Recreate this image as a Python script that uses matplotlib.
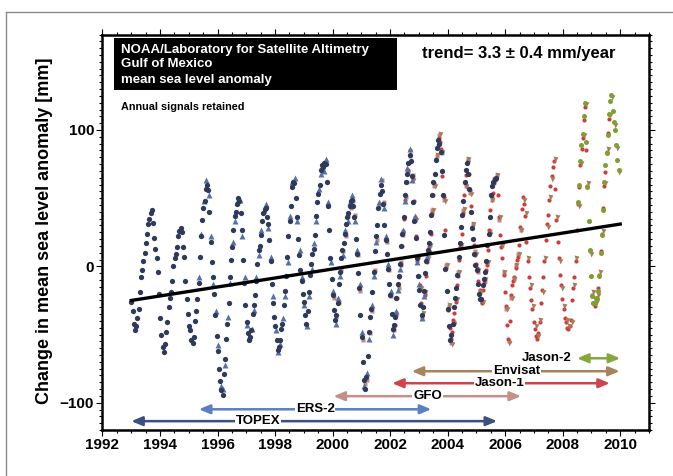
import numpy as np
import matplotlib
matplotlib.use("Agg")
import matplotlib.pyplot as plt
from matplotlib.ticker import MultipleLocator

plt.rcParams['font.family'] = ['Liberation Sans', 'DejaVu Sans']

# sea level anomaly [mm] per mission
# (one value per month, plus a second table for the mid-month passes)
topex_start = 1993.0
topex_mm = [
    -26, -42, -44, -31, -8, 4, 17, 31, 39, 32, 13, -4,
    -38, -59, -57, -41, -23, -11, 6, 14, 26, 25, 7, -24,
    -44, -54, -52, -33, -12, 22, 43, 57, 56, 18, -8, -36,
    -62, -84, -94, -68, -42, -8, 14, 37, 46, 48, 27, -12,
    -41, -54, -47, -28, -11, 12, 23, 39, 43, 31, 4, -27,
    -44, -61, -54, -42, -18, 7, 33, 58, 61, 36, 8, -11,
    -26, -42, -19, 2, 13, 37, 53, 71, 73, 75, 44, 6,
    -21, -39, -27, -4, 12, 24, 36, 44, 49, 36, 9, -16,
    -52, -83, -81, -48, -31, -4, 22, 43, 60, 46, 19, -2,
    -21, -46, -37, -13, 2, 24, 52, 68, 82, 66, 33, 6,
    -17, -36, -18, 4, 17, 38, 62, 78, 93, 84, 52, -2,
    -31, -54, -42, -23, -6, 17, 38, 62, 76, 57, 28, 9,
    -3, -20, -24, -9, 4, 24, 52, 62, 65,
]
topex_mid_mm = [
    -33, -47, -38, -19, -3, 10, 24, 35, 41, 21, 6, -20,
    -50, -63, -48, -30, -19, 0, 9, 22, 28, 14, -11, -35,
    -47, -56, -40, -24, 7, 34, 48, 60, 40, 3, -20, -51,
    -75, -91, -79, -53, -27, 5, 27, 40, 50, 39, 5, -28,
    -49, -52, -35, -21, 2, 15, 33, 42, 36, 19, -13, -37,
    -54, -59, -46, -28, -7, 22, 44, 62, 50, 20, -3, -20,
    -36, -33, -6, 9, 23, 47, 60, 74, 76, 62, 27, -9,
    -32, -36, -13, 6, 17, 31, 39, 48, 44, 20, -5, -36,
    -70, -90, -66, -37, -19, 11, 30, 53, 55, 30, 9, -13,
    -35, -43, -23, -7, 15, 36, 62, 76, 77, 47, 21, -7,
    -28, -30, -5, 12, 25, 52, 68, 87, 90, 70, 23, -18,
    -44, -50, -30, -16, 7, 29, 48, 71, 68, 40, 20, 1,
    -13, -24, -14, -4, 16, 36, 59, 64,
]

ers2_start = 1995 + 4 / 12
ers2_mm = [
    -8, 24, 48, 63, 52, 22, -13, -33,
    -58, -88, -90, -72, -37, -12, 18, 33, 47, 49, 22, -8,
    -43, -52, -46, -32, -8, 8, 27, 41, 46, 28, 7, -22,
    -47, -63, -57, -38, -22, 3, 37, 62, 65, 33, 12, -8,
    -28, -44, -22, -2, 17, 33, 57, 68, 70, 79, 47, 3,
    -18, -42, -23, -7, 8, 27, 33, 47, 52, 33, 12, -13,
    -48, -88, -78, -53, -28, -7, 18, 47, 64, 43, 22, 2,
    -18, -50, -33, -17, -2, 27, 48, 72, 86, 63, 37, 3,
    -13, -38, -22, 7, 13,
]

gfo_start = 2000.0
gfo_mm = [
    -23, -37, -26, -3, 11, 22, 37, 43, 48, 38, 8, -18,
    -54, -86, -83, -49, -33, -3, 19, 44, 63, 47, 18, -3,
    -22, -47, -34, -16, 3, 23, 51, 69, 81, 67, 34, 7,
    -16, -37, -19, 6, 16, 41, 59, 81, 96, 83, 49, 1,
    -29, -56, -41, -24, -4, 16, 41, 59, 79, 54, 31, 11,
    -4, -19, -26, -11, 3, 26, 49, 64, 67, 34, 16, -4,
    -31, -55, -23, -9, 1, 9, 27,
]

jason1_start = 2002 + 1 / 12
jason1_mm = [
    -47, -36, -14, 1, 26, 49, 71, 85, 64, 36, 4,
    -14, -36, -21, 3, 14, 39, 61, 79, 94, 86, 51, -1,
    -32, -53, -39, -26, -7, 14, 39, 61, 77, 56, 29, 8,
    -1, -17, -27, -12, 1, 27, 51, 61, 64, 36, 14, -6,
    -29, -53, -21, -11, -1, 7, 29, 51, 37, 4, -16, -31,
    -46, -53, -41, -17, 4, 31, 49, 66, 77, 34, 6, -14,
    -31, -41, -46, -39, -16, 4, 46, 74, 94, 117, 59, 11,
    -21, -29, -23, -6, 24, 59, 84, 108,
]
jason1_mid_mm = [
    -43, -23, -8, 15, 35, 62, 76, 77, 48, 22, -7,
    -27, -30, -7, 10, 24, 52, 68, 88, 91, 66, 27, -18,
    -45, -48, -34, -14, 5, 24, 52, 67, 68, 44, 16, 2,
    -11, -25, -17, -3, 12, 41, 54, 63, 52, 23, 6, -19,
    -43, -40, -14, -8, 5, 16, 42, 46, 18, -8, -25, -41,
    -51, -49, -27, -8, 19, 38, 59, 73, 57, 18, -6, -24,
    -38, -45, -44, -25, -8, 27, 58, 86, 107, 85, 33, -7,
    -27, -24, -16, 11, 43, 69, 98,
]

envisat_start = 2002 + 9 / 12
envisat_mm = [
    63, 34, 6,
    -16, -34, -19, 6, 16, 41, 59, 82, 97, 84, 48, 1,
    -28, -57, -42, -24, -4, 16, 42, 59, 79, 53, 31, 9,
    -3, -19, -26, -9, 3, 24, 49, 64, 67, 36, 16, -4,
    -31, -56, -23, -9, 1, 9, 27, 49, 39, 6, -14, -29,
    -44, -51, -39, -19, 6, 29, 51, 64, 79, 36, 4, -16,
    -29, -39, -44, -41, -14, 6, 44, 76, 96, 119, 61, 9,
    -19, -27, -21, -4, 26, 61, 86, 111, 124, 104, 87, 69,
]

jason2_start = 2008 + 6 / 12
jason2_mm = [
    47, 77, 97, 120, 58, 12,
    -22, -27, -24, -7, 23, 62, 83, 112, 126, 106, 89, 71,
]
jason2_mid_mm = [
    60, 89, 110, 91, 33, -7,
    -27, -23, -18, 10, 41, 74, 96, 121, 114, 100, 78,
]

trend_years = [1993.0, 2010.0]
trend_mm = [-25, 31]

mission_names = ["TOPEX", "ERS-2", "GFO", "Jason-1", "Envisat", "Jason-2"]
mission_from = [1993.0, 1995.35, 2000.03, 2002.07, 2002.75, 2008.5]
mission_to = [2005.72, 2003.43, 2006.55, 2009.64, 2009.98, 2010.0]


def month_times(start, vals, phase):
    return start + (np.arange(len(vals)) + phase) / 12.0


fig = plt.figure(figsize=(6.73, 4.76), dpi=100)
ax = fig.add_axes([0.1523, 0.0966, 0.812, 0.8309])

# outer frame of the page
fig.add_artist(plt.Line2D([6 / 673, 1], [1 - 12 / 476] * 2, color="#8a8a8a", lw=1))
fig.add_artist(plt.Line2D([6 / 673] * 2, [0, 1 - 12 / 476], color="#8a8a8a", lw=1))

ax.plot(month_times(gfo_start, gfo_mm, 0.5), gfo_mm, ls="none", marker="s",
        ms=2.8, color="#c08a86", mec="none")
ax.plot(month_times(jason1_start, jason1_mm, 0.35), jason1_mm, ls="none", marker="o",
        ms=3.0, color="#cf3c3c", mec="none")
ax.plot(month_times(jason1_start, jason1_mid_mm, 0.85), jason1_mid_mm, ls="none", marker="o",
        ms=3.0, color="#cf3c3c", mec="none")
ax.plot(month_times(envisat_start, envisat_mm, 0.7), envisat_mm, ls="none", marker="v",
        ms=3.6, color="#a57f5a", mec="none")
ax.plot(month_times(ers2_start, ers2_mm, 0.25), ers2_mm, ls="none", marker="^",
        ms=3.8, color="#5572a8", mec="none")
ax.plot(month_times(topex_start, topex_mm, 0.1), topex_mm, ls="none", marker="o",
        ms=3.8, color="#2e3a5c", mec="none")
ax.plot(month_times(topex_start, topex_mid_mm, 0.6), topex_mid_mm, ls="none", marker="o",
        ms=3.8, color="#2e3a5c", mec="none")
ax.plot(month_times(jason2_start, jason2_mm, 0.3), jason2_mm, ls="none", marker="o",
        ms=3.6, color="#7f9f2e", mec="none")
ax.plot(month_times(jason2_start, jason2_mid_mm, 0.8), jason2_mid_mm, ls="none", marker="o",
        ms=3.6, color="#7f9f2e", mec="none")

ax.plot(trend_years, trend_mm, color="black", lw=2.4)

# mission spans
arrow_colors = ["#3b4f80", "#5b80c0", "#c4908a", "#d0434a", "#a8845e", "#85a83a"]
arrow_levels = [-113.5, -104.8, -95.2, -85.7, -76.9, -67.4]
label_x = [1997.4, 1999.4, 2003.3, 2005.8, 2006.4, 2007.45]
for i, name in enumerate(mission_names):
    ax.annotate("", xy=(mission_to[i], arrow_levels[i]), xytext=(mission_from[i], arrow_levels[i]),
                arrowprops=dict(arrowstyle="<|-|>,head_length=0.6,head_width=0.25",
                                color=arrow_colors[i], lw=1.8,
                                mutation_scale=11, shrinkA=0, shrinkB=0))
    ax.text(label_x[i], arrow_levels[i], name, ha="center", va="center", fontsize=9.5,
            fontweight="bold", color="black",
            bbox=dict(facecolor="white", edgecolor="none", pad=0.5))

# title box
ax.add_patch(plt.Rectangle((0.021, 0.860), 0.518, 0.131, transform=ax.transAxes,
                           facecolor="black", edgecolor="none", zorder=5))
ax.text(0.034, 0.961, "NOAA/Laboratory for Satellite Altimetry", transform=ax.transAxes,
        color="white", fontsize=9.5, fontweight="bold", va="center", zorder=6)
ax.text(0.034, 0.925, "Gulf of Mexico", transform=ax.transAxes,
        color="white", fontsize=9.5, fontweight="bold", va="center", zorder=6)
ax.text(0.034, 0.886, "mean sea level anomaly", transform=ax.transAxes,
        color="white", fontsize=9.5, fontweight="bold", va="center", zorder=6)
ax.text(0.034, 0.817, "Annual signals retained", transform=ax.transAxes,
        color="black", fontsize=7.8, fontweight="bold", va="center")
ax.text(0.585, 0.953, "trend= 3.3 \u00b1 0.4 mm/year", transform=ax.transAxes,
        color="black", fontsize=12, fontweight="bold", va="center")

ax.set_xlim(1992, 2011)
ax.set_ylim(-120, 170)
ax.xaxis.set_major_locator(MultipleLocator(2))
ax.xaxis.set_minor_locator(MultipleLocator(0.5))
ax.yaxis.set_major_locator(MultipleLocator(100))
ax.yaxis.set_minor_locator(MultipleLocator(5))
ax.tick_params(which="both", direction="out", top=True, right=True, labelsize=11, width=0.8)
ax.tick_params(which="major", length=4, pad=2)
ax.tick_params(which="minor", length=2)
for lab in ax.get_xticklabels() + ax.get_yticklabels():
    lab.set_fontweight("bold")
for s in ax.spines.values():
    s.set_linewidth(1.8)

fig.text(45 / 673, 1 - 231 / 476, "Change in mean sea level anomaly [mm]", rotation=90,
         ha="center", va="center", fontsize=13, fontweight="bold")

fig.savefig("out.png", dpi=100)
